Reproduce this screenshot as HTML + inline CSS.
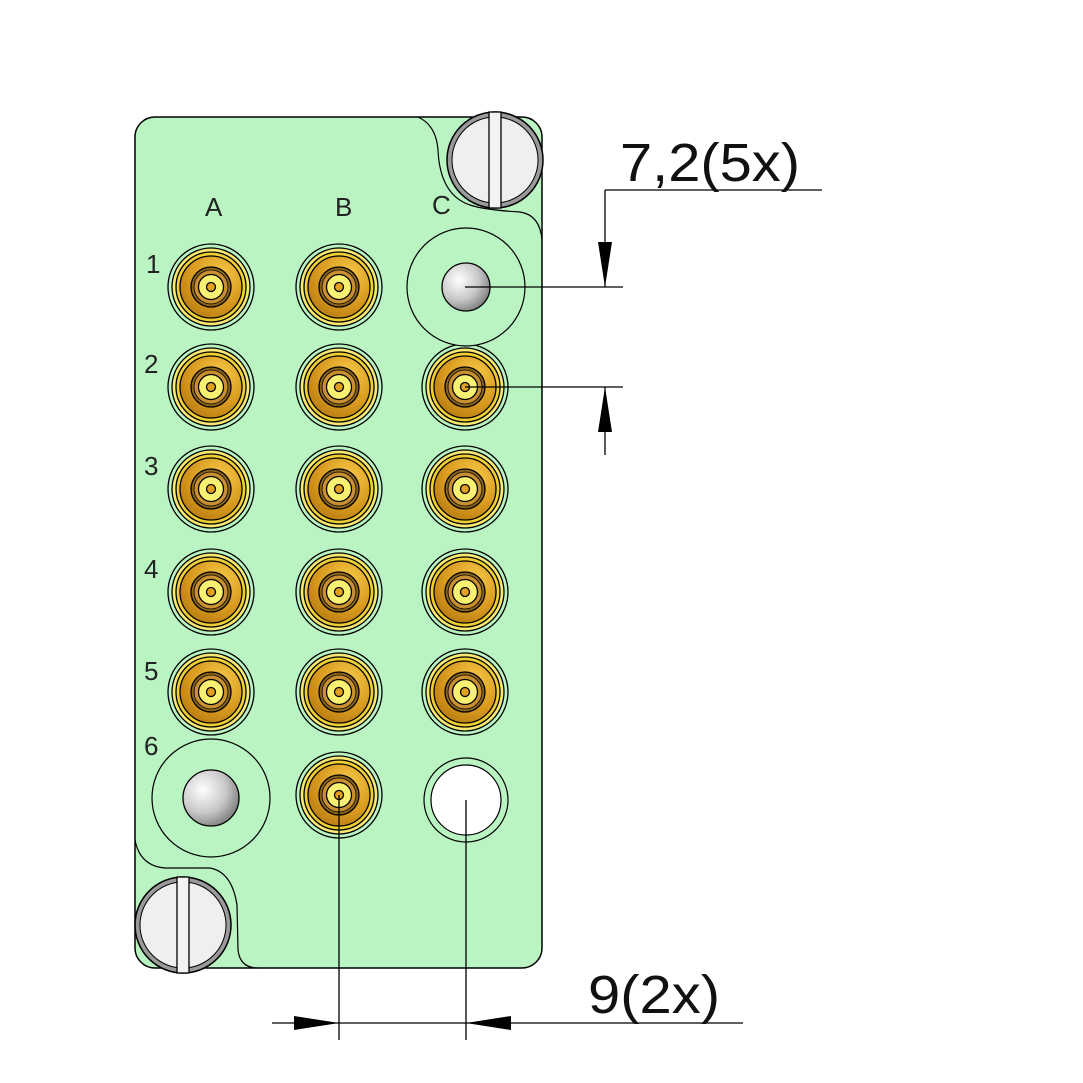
<!DOCTYPE html>
<html><head><style>body{margin:0;background:#fff}svg{display:block}</style></head><body>
<svg width="1083" height="1083" viewBox="0 0 1083 1083" xmlns="http://www.w3.org/2000/svg" font-family="Liberation Sans, sans-serif">
<defs>
<radialGradient id="gold" cx="0.65" cy="0.3" r="0.8"><stop offset="0" stop-color="#f6c848"/><stop offset="0.6" stop-color="#d89a1e"/><stop offset="1" stop-color="#b67a10"/></radialGradient>
<radialGradient id="ball" cx="0.35" cy="0.35" r="0.7"><stop offset="0" stop-color="#ffffff"/><stop offset="0.6" stop-color="#c8c8c8"/><stop offset="1" stop-color="#808080"/></radialGradient>
<g id="con" stroke="#000" stroke-width="1.3">
<circle r="43" fill="#b9f4c2"/>
<circle r="39" fill="#f6e870"/>
<circle r="35" fill="#f0d030"/>
<circle r="31" fill="url(#gold)"/>
<circle r="20" fill="#8a6418"/>
<circle r="17" fill="#c89030" stroke-width="0.8"/>
<circle r="12.5" fill="#f8f070"/>
<circle r="4.5" fill="#e0a020"/>
</g>
<g id="scr">
<circle r="48" fill="#9a9a9a" stroke="#000" stroke-width="1.5"/>
<circle r="43" fill="#efefef" stroke="#000" stroke-width="1"/>
<rect x="-6" y="-48" width="12" height="96" fill="#f3f3f3" stroke="#000" stroke-width="1.3"/>
</g>
</defs>
<!-- plate -->
<rect x="135" y="117" width="407" height="851" rx="20" fill="#b9f4c2" stroke="#000" stroke-width="1.5"/>
<path d="M418 117 Q436 125 438 150 Q440 195 470 205 Q485 210 520 212 Q540 215 542 240" fill="none" stroke="#000" stroke-width="1.2"/>
<path d="M135 840 Q140 866 165 868 L210 868 Q232 872 237 905 L238 950 Q240 968 258 968" fill="none" stroke="#000" stroke-width="1.2"/>
<use href="#scr" x="495" y="160"/>
<use href="#scr" x="183" y="925"/>
<!-- labels -->
<g font-size="26" fill="#222">
<text x="205" y="216">A</text><text x="335" y="216">B</text><text x="432" y="214">C</text>
<text x="146" y="273">1</text><text x="144" y="373">2</text><text x="144" y="475">3</text>
<text x="144" y="578">4</text><text x="144" y="680">5</text><text x="144" y="755">6</text>
</g>
<!-- connectors -->
<use href="#con" x="211" y="287"/><use href="#con" x="339" y="287"/>
<use href="#con" x="211" y="387"/><use href="#con" x="339" y="387"/><use href="#con" x="465" y="387"/>
<use href="#con" x="211" y="489"/><use href="#con" x="339" y="489"/><use href="#con" x="465" y="489"/>
<use href="#con" x="211" y="592"/><use href="#con" x="339" y="592"/><use href="#con" x="465" y="592"/>
<use href="#con" x="211" y="692"/><use href="#con" x="339" y="692"/><use href="#con" x="465" y="692"/>
<use href="#con" x="339" y="795"/>
<!-- empty positions -->
<circle cx="466" cy="287" r="59" fill="#b9f4c2" stroke="#000" stroke-width="1.2"/>
<circle cx="466" cy="287" r="24" fill="url(#ball)" stroke="#000" stroke-width="1.3"/>
<circle cx="211" cy="798" r="59" fill="#b9f4c2" stroke="#000" stroke-width="1.2"/>
<circle cx="211" cy="798" r="28" fill="url(#ball)" stroke="#000" stroke-width="1.3"/>
<circle cx="466" cy="800" r="42" fill="#b9f4c2" stroke="#000" stroke-width="1.2"/>
<circle cx="466" cy="800" r="35" fill="#fff" stroke="#000" stroke-width="1.2"/>
<!-- dimensions -->
<g stroke="#000" stroke-width="1.3" fill="none">
<line x1="605" y1="190" x2="822" y2="190"/>
<line x1="605" y1="190" x2="605" y2="287"/>
<line x1="605" y1="387" x2="605" y2="455"/>
<line x1="465" y1="287" x2="623" y2="287"/>
<line x1="465" y1="387" x2="623" y2="387"/>
<line x1="339" y1="795" x2="339" y2="1040"/>
<line x1="466" y1="800" x2="466" y2="1040"/>
<line x1="272" y1="1023" x2="743" y2="1023"/>
</g>
<g fill="#000">
<polygon points="605,287 598,242 612,242"/>
<polygon points="605,387 598,432 612,432"/>
<polygon points="339,1023 294,1016 294,1030"/>
<polygon points="466,1023 511,1016 511,1030"/>
</g>
<g font-size="54" fill="#111">
<text x="620" y="181" textLength="180" lengthAdjust="spacingAndGlyphs">7,2(5x)</text>
<text x="588" y="1013" textLength="132" lengthAdjust="spacingAndGlyphs">9(2x)</text>
</g>
</svg>
</body></html>
